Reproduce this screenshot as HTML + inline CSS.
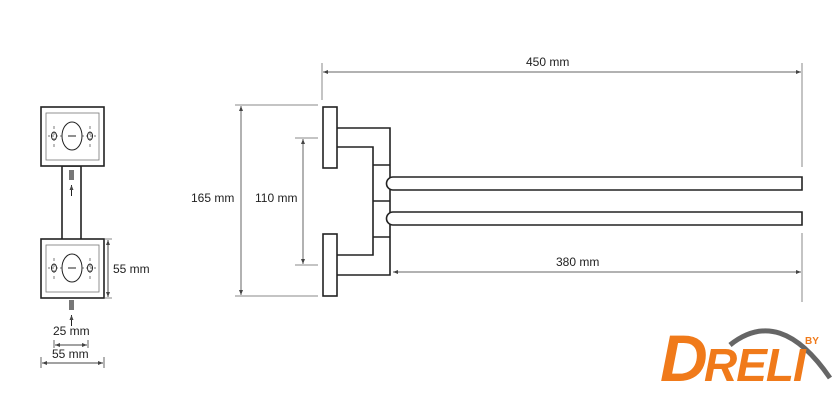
<!DOCTYPE html>
<html><head><style>
body{margin:0;background:#fff;width:840px;height:412px;overflow:hidden}
svg{display:block}
text{font-family:"Liberation Sans",sans-serif;font-size:12px;fill:#222}
</style></head><body>
<svg width="840" height="412" viewBox="0 0 840 412">
<defs>
<marker id="a" markerWidth="6" markerHeight="6" refX="5" refY="3" orient="auto-start-reverse"><path d="M0,1 L5,3 L0,5 Z" fill="#444"/></marker>
<g id="box">
<rect x="41" y="0" width="63" height="59" fill="#fff" stroke="#222" stroke-width="1.6"/>
<rect x="46" y="6" width="53" height="47" fill="none" stroke="#777" stroke-width="0.8"/>
<ellipse cx="72" cy="29" rx="10" ry="14" fill="none" stroke="#222" stroke-width="1"/>
<line x1="68" y1="29" x2="76" y2="29" stroke="#222"/>
<ellipse cx="54" cy="29" rx="2.5" ry="4" fill="none" stroke="#222"/>
<ellipse cx="90" cy="29" rx="2.5" ry="4" fill="none" stroke="#222"/>
<line x1="48" y1="29" x2="62" y2="29" stroke="#444" stroke-dasharray="2,2" stroke-width="0.7"/>
<line x1="82" y1="29" x2="97" y2="29" stroke="#444" stroke-dasharray="2,2" stroke-width="0.7"/>
<line x1="54" y1="19" x2="54" y2="40" stroke="#444" stroke-dasharray="3,3" stroke-width="0.7"/>
<line x1="90" y1="19" x2="90" y2="40" stroke="#444" stroke-dasharray="3,3" stroke-width="0.7"/>
</g>
</defs>
<rect x="62" y="166" width="19" height="74" fill="#fff" stroke="#222" stroke-width="1.6"/>
<use href="#box" y="107"/>
<use href="#box" y="239"/>
<rect x="69" y="170" width="5" height="10" fill="#777"/>
<line x1="71.5" y1="196" x2="71.5" y2="185" stroke="#222" marker-end="url(#a)"/>
<rect x="69" y="300" width="5" height="10" fill="#777"/>
<line x1="71.5" y1="326" x2="71.5" y2="315" stroke="#222" marker-end="url(#a)"/>
<line x1="105" y1="239" x2="112" y2="239" stroke="#888"/>
<line x1="105" y1="298" x2="112" y2="298" stroke="#888"/>
<line x1="108" y1="240" x2="108" y2="297" stroke="#444" marker-start="url(#a)" marker-end="url(#a)"/>
<text x="113" y="273">55 mm</text>
<text x="53" y="335">25 mm</text>
<line x1="54" y1="340" x2="54" y2="348" stroke="#666"/><line x1="88" y1="340" x2="88" y2="348" stroke="#666"/>
<line x1="55" y1="345" x2="87" y2="345" stroke="#444" marker-start="url(#a)" marker-end="url(#a)"/>
<text x="52" y="358">55 mm</text>
<line x1="41" y1="357" x2="41" y2="368" stroke="#666"/><line x1="104" y1="357" x2="104" y2="368" stroke="#666"/>
<line x1="42" y1="363" x2="103" y2="363" stroke="#444" marker-start="url(#a)" marker-end="url(#a)"/>
<line x1="322" y1="63" x2="322" y2="100" stroke="#888"/>
<line x1="802" y1="63" x2="802" y2="167" stroke="#888"/>
<line x1="802" y1="233" x2="802" y2="302" stroke="#888"/>
<line x1="323" y1="72" x2="801" y2="72" stroke="#666" marker-start="url(#a)" marker-end="url(#a)"/>
<text x="526" y="66">450 mm</text>
<line x1="393" y1="272" x2="801" y2="272" stroke="#666" marker-start="url(#a)" marker-end="url(#a)"/>
<text x="556" y="266">380 mm</text>
<line x1="235" y1="105" x2="318" y2="105" stroke="#888"/>
<line x1="235" y1="296" x2="318" y2="296" stroke="#888"/>
<line x1="241" y1="106" x2="241" y2="295" stroke="#666" marker-start="url(#a)" marker-end="url(#a)"/>
<text x="191" y="202">165 mm</text>
<line x1="295" y1="138" x2="318" y2="138" stroke="#888"/>
<line x1="295" y1="265" x2="318" y2="265" stroke="#888"/>
<line x1="303" y1="139" x2="303" y2="264" stroke="#666" marker-start="url(#a)" marker-end="url(#a)"/>
<text x="255" y="202">110 mm</text>
<g fill="none" stroke="#222" stroke-width="1.6">
<rect x="323" y="107" width="14" height="61" fill="#fff"/>
<rect x="323" y="234" width="14" height="62" fill="#fff"/>
<path d="M337,128 H390 V275 H337"/>
<path d="M337,147 H373 V255 H337"/>
<line x1="373" y1="165" x2="390" y2="165"/>
<line x1="373" y1="201" x2="390" y2="201"/>
<line x1="373" y1="237" x2="390" y2="237"/>
<path d="M802,177 H393 A6.5,6.5 0 0 0 393,190 H802 Z" fill="#fff"/>
<path d="M802,212 H393 A6.5,6.5 0 0 0 393,225 H802 Z" fill="#fff"/>
</g>
<path d="M730,345 Q780,305 830,378" fill="none" stroke="#666" stroke-width="5"/>
<text x="660" y="381" style="font-size:66px;font-weight:bold;font-style:italic;fill:#f07a1a;letter-spacing:-3px">D</text>
<text x="704" y="381" style="font-size:46px;font-weight:bold;font-style:italic;fill:#f07a1a;letter-spacing:-1px">RELI</text>
<text x="805" y="344" style="font-size:10px;font-weight:bold;fill:#f07a1a">BY</text>
</svg>
</body></html>
